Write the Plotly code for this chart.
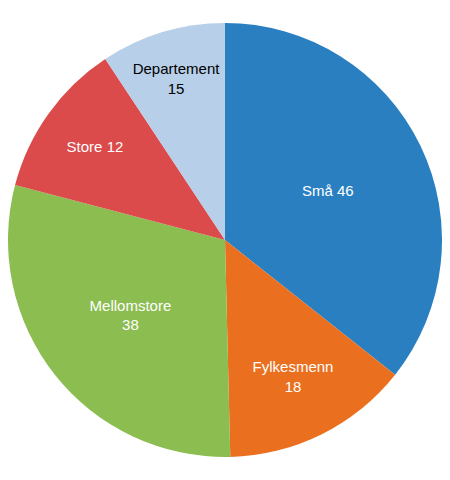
import plotly.graph_objects as go

labels = ["Små", "Fylkesmenn", "Mellomstore", "Store", "Departement"]
values = [46, 18, 38, 15, 12]
slice_text = ["Små 46", "Fylkesmenn<br>18", "Mellomstore<br>38", "Store 12", "Departement<br>15"]
colors = ["#2a7fc1", "#ea7020", "#8bbd50", "#dc4b4b", "#b7cfe8"]
text_colors = ["white", "white", "white", "white", "black"]

fig = go.Figure(go.Pie(
    labels=labels,
    values=values,
    text=slice_text,
    textinfo="text",
    textposition="inside",
    insidetextorientation="horizontal",
    insidetextfont=dict(family="Arial, Liberation Sans", size=15, color=text_colors),
    marker=dict(colors=colors, line=dict(color="white", width=0)),
    sort=False,
    direction="clockwise",
    rotation=0,
    showlegend=False,
))

fig.update_layout(
    width=434, height=464,
    margin=dict(l=0, r=0, t=0, b=0),
    paper_bgcolor="white",
)

fig.write_html("out.html")
